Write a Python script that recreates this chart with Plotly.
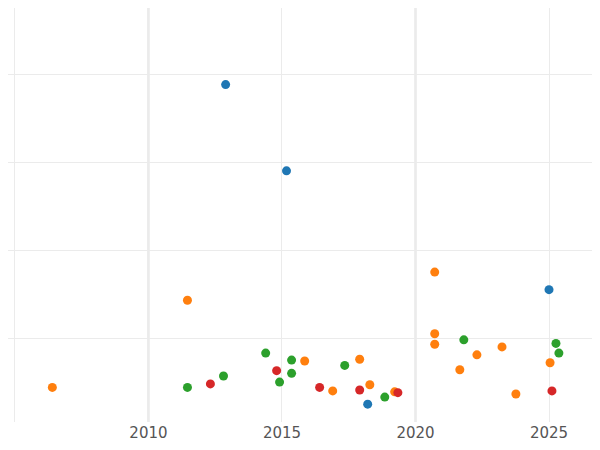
import plotly.graph_objs as go

blue_x = [2012.89, 2015.17, 2025.0, 2018.21]
blue_y = [3.89, 2.91, 1.56, 0.26]

orange_x = [2006.40, 2011.46, 2015.85, 2016.90, 2017.91, 2018.29, 2019.22, 2020.72,
            2020.72, 2020.72, 2021.66, 2022.30, 2023.24, 2023.76, 2025.04]
orange_y = [0.45, 1.44, 0.75, 0.41, 0.77, 0.48, 0.40, 1.76,
            1.06, 0.94, 0.65, 0.82, 0.91, 0.375, 0.73]

green_x = [2011.46, 2012.81, 2014.39, 2014.91, 2015.36, 2015.36, 2017.35, 2018.85,
           2021.81, 2025.26, 2025.37]
green_y = [0.45, 0.58, 0.84, 0.51, 0.76, 0.61, 0.70, 0.34, 0.99, 0.95, 0.84]

red_x = [2012.32, 2014.80, 2016.41, 2017.91, 2019.34, 2025.11]
red_y = [0.49, 0.64, 0.45, 0.42, 0.39, 0.41]

tick_years = [2005, 2010, 2015, 2020, 2025]
tick_text = ['', '2010', '2015', '2020', '2025']

series = [
    (blue_x, blue_y, '#1f77b4'),
    (orange_x, orange_y, '#ff7f0e'),
    (green_x, green_y, '#2ca02c'),
    (red_x, red_y, '#d62728'),
]

traces = [
    go.Scatter(
        x=x, y=y, mode='markers',
        marker=dict(color=c, size=9),
    )
    for x, y, c in series
]

fig = go.Figure(
    data=traces,
    layout=go.Layout(
        width=584, height=434,
        margin=dict(l=0, r=0, t=0, b=20),
        plot_bgcolor='white',
        paper_bgcolor='white',
        showlegend=False,
        font=dict(family='DejaVu Sans', size=15, color='#555'),
        xaxis=dict(
            range=[2004.74, 2026.61],
            tickvals=tick_years, ticktext=tick_text,
            showgrid=True, gridcolor='#ebebeb', zeroline=False,
            showline=False, ticks='',
        ),
        yaxis=dict(
            range=[0.057, 4.76], dtick=1,
            showgrid=True, gridcolor='#ebebeb', zeroline=False,
            showticklabels=False,
        ),
        shapes=[
            dict(type='line', x0=yr, x1=yr, y0=0, y1=1, yref='paper',
                 layer='below', line=dict(color='#dddddd', width=2))
            for yr in (2010, 2020)
        ],
    ),
)

fig.write_html("out.html")
